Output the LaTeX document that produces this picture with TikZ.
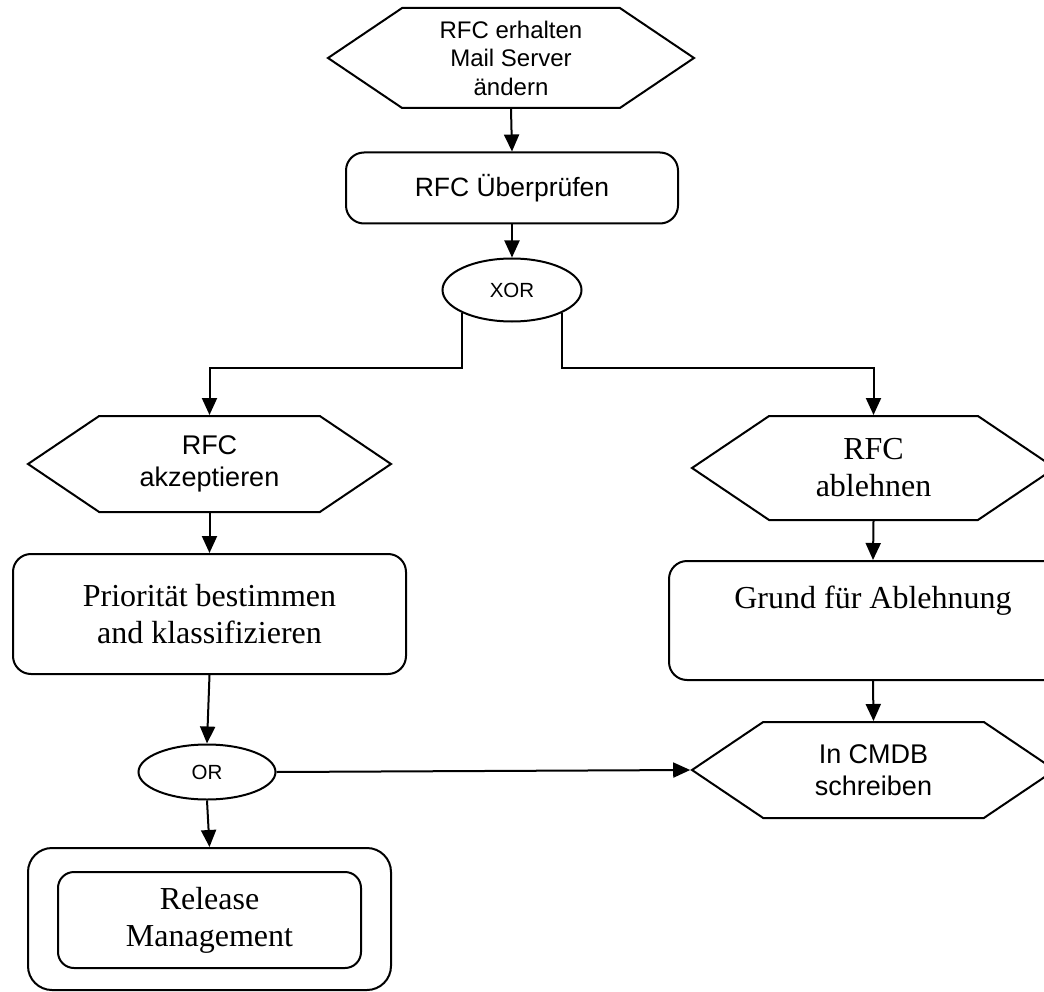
\documentclass[tikz,border=0pt]{standalone}
\usepackage{fontspec}
\setmainfont{Liberation Serif}
\setsansfont{Liberation Sans}
\usetikzlibrary{shapes.geometric,shapes.symbols,arrows.meta}

\tikzset{
  flow/.style={line width=2pt, -{Triangle[length=17pt,width=15pt]}},
  hexbox/.style={draw, line width=2pt, shape=signal, signal to=west and east,
    signal pointer angle=68, inner sep=0pt, align=center},
  roundbox/.style={draw, line width=2pt, rounded corners=18pt, align=center, inner sep=0pt},
  gate/.style={draw, ellipse, line width=2pt, inner sep=0pt,
    font=\sffamily\fontsize{20.5}{24}\selectfont},
  sanslabel/.style={font=\sffamily\fontsize{27}{32}\selectfont},
  seriflabel/.style={font=\rmfamily\fontsize{32}{37}\selectfont}
}

\begin{document}
\begin{tikzpicture}[x=1pt,y=-1pt]
  \useasboundingbox (0,0) rectangle (1044,992);

  % start and check
  \node[hexbox, minimum width=366pt, minimum height=100pt,
    font=\sffamily\fontsize{24}{28.5}\selectfont] (start) at (511,58)
    {RFC erhalten\\Mail Server\\ändern};
  \node[roundbox, sanslabel, font=\sffamily\fontsize{26.5}{31}\selectfont,
    minimum width=332pt, minimum height=71pt] (check) at (512,188)
    {RFC Überprüfen};
  \node[gate, minimum width=139pt, minimum height=63pt] (xor) at (512,290) {XOR};
  \coordinate (split) at (512,368);

  % accept branch
  \node[hexbox, sanslabel, minimum width=363pt, minimum height=96pt] (accept) at (209.5,464)
    {RFC\\akzeptieren};
  \node[roundbox, seriflabel, minimum width=393pt, minimum height=120pt] (prio) at (209.5,614)
    {Priorität bestimmen\\and klassifizieren};
  \node[gate, minimum width=137pt, minimum height=55pt] (or) at (207,772) {OR};
  \node[roundbox, rounded corners=24pt, minimum width=363pt, minimum height=142pt] (release) at (209.5,919) {};
  \node[roundbox, rounded corners=16pt, seriflabel, minimum width=303pt, minimum height=96pt] (releaseinner) at (209.5,920)
    {Release\\Management};

  % reject branch
  \node[hexbox, seriflabel, minimum width=363pt, minimum height=104pt] (reject) at (873.5,468)
    {RFC\\ablehnen};
  \node[roundbox, seriflabel, minimum width=408pt, minimum height=119pt] (reason) at (873,620.5)
    {Grund für Ablehnung\\[9pt]};
  \node[hexbox, sanslabel, minimum width=363pt, minimum height=96pt] (cmdb) at (873.5,770)
    {In CMDB\\schreiben};

  % connectors
  \draw[flow] (start.south) -- (check.north);
  \draw[flow] (check.south) -- (xor.north);
  \draw[flow] (xor.south west) -- (xor.south west |- split) -| (accept.north);
  \draw[flow] (xor.south east) -- (xor.south east |- split) -| (reject.north);
  \draw[flow] (accept.south) -- (prio.north);
  \draw[flow] (prio.south) -- (or.north);
  \draw[flow] (or.south) -- (release.north);
  \draw[flow] (or.east) -- (cmdb.west);
  \draw[flow] (reject.south) -- (reason.north);
  \draw[flow] (reason.south) -- (cmdb.north);
\end{tikzpicture}
\end{document}
